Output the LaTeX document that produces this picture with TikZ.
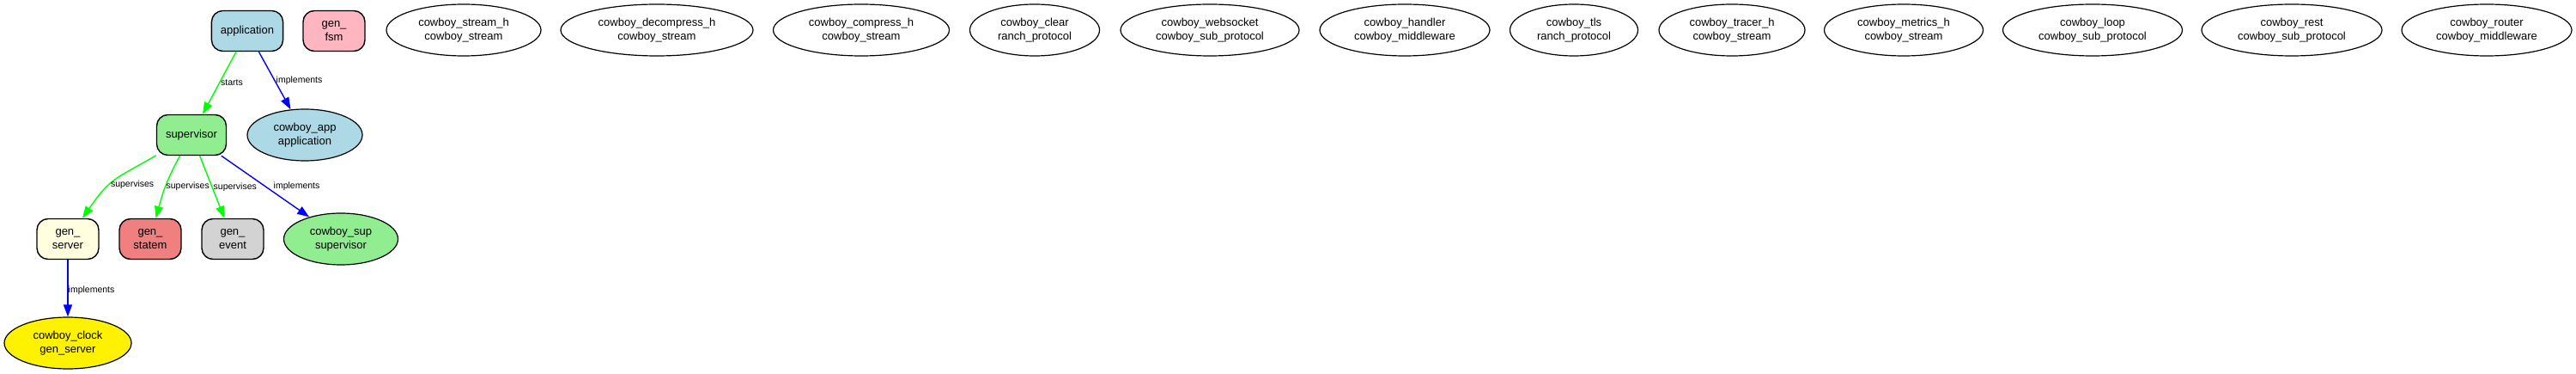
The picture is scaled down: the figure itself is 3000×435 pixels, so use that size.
\documentclass[tikz,border=0pt]{standalone}
\usepackage{fontspec}
\setmainfont{Liberation Sans}
\usetikzlibrary{arrows.meta,shapes.geometric}
\definecolor{lblue}{HTML}{ADD8E6}
\definecolor{lpink}{HTML}{FFB6C1}
\definecolor{lgreen}{HTML}{90EE90}
\definecolor{lyellow}{HTML}{FFFFE0}
\definecolor{lcoral}{HTML}{F08080}
\definecolor{lgray}{HTML}{D3D3D3}
\definecolor{ggreen}{HTML}{00FF00}
\tikzset{%
  rbox/.style={draw,shape=rectangle,rounded corners=13pt,line width=1.4pt,minimum width=72pt,minimum height=47pt,inner xsep=10.5pt,align=center,font={\fontsize{13}{15.5}\selectfont}},
  oval/.style={draw,shape=ellipse,line width=1.2pt,minimum height=60pt,inner sep=0pt,align=center,font={\fontsize{13}{15.5}\selectfont}},
  gedge/.style={draw=ggreen,line width=1.4pt,-{Triangle[length=14pt,width=10pt]}},
  bedge/.style={draw=blue,line width=1.4pt,-{Triangle[length=14pt,width=10pt]}},
  elabel/.style={anchor=west,inner sep=1pt,font={\fontsize{10.5}{12}\selectfont}}
}
\begin{document}
\begin{tikzpicture}[x=1pt,y=1pt]
    \useasboundingbox (0,0) rectangle (3000,-435);
    \path
      (288,-36) node (app)[rbox,fill=lblue]{application}
      (389,-36) node (fsm)[rbox,fill=lpink]{gen\_\\fsm}
      (223,-157) node (sup)[rbox,fill=lgreen]{supervisor}
      (355,-157) node (capp)[oval,fill=lblue,minimum width=134pt]{cowboy\_app\\application}
      (79,-278) node (srv)[rbox,fill=lyellow]{gen\_\\server}
      (175,-278) node (statem)[rbox,fill=lcoral]{gen\_\\statem}
      (271,-278) node (event)[rbox,fill=lgray]{gen\_\\event}
      (397,-278) node (csup)[oval,fill=lgreen,minimum width=133pt]{cowboy\_sup\\supervisor}
      (79,-399) node (clock)[oval,fill=yellow,minimum width=148pt]{cowboy\_clock\\gen\_server};
    \path
      (540,-35) node (streamh)[oval,minimum width=180pt]{cowboy\_stream\_h\\cowboy\_stream}
      (765,-35) node (decomp)[oval,minimum width=224pt]{cowboy\_decompress\_h\\cowboy\_stream}
      (1003,-35) node (comp)[oval,minimum width=205pt]{cowboy\_compress\_h\\cowboy\_stream}
      (1205,-35) node (clear)[oval,minimum width=151pt]{cowboy\_clear\\ranch\_protocol}
      (1409,-35) node (ws)[oval,minimum width=208pt]{cowboy\_websocket\\cowboy\_sub\_protocol}
      (1636,-35) node (handler)[oval,minimum width=198pt]{cowboy\_handler\\cowboy\_middleware}
      (1833,-35) node (tls)[oval,minimum width=149pt]{cowboy\_tls\\ranch\_protocol}
      (2017,-35) node (tracer)[oval,minimum width=170pt]{cowboy\_tracer\_h\\cowboy\_stream}
      (2217,-35) node (metrics)[oval,minimum width=185pt]{cowboy\_metrics\_h\\cowboy\_stream}
      (2437,-35) node (loop)[oval,minimum width=209pt]{cowboy\_loop\\cowboy\_sub\_protocol}
      (2669,-35) node (rest)[oval,minimum width=210pt]{cowboy\_rest\\cowboy\_sub\_protocol}
      (2896,-35) node (router)[oval,minimum width=198pt]{cowboy\_router\\cowboy\_middleware};
    \draw[gedge] (app) -- node[elabel]{starts} (sup);
    \draw[bedge] (app) -- node[elabel]{implements} (capp);
    \draw[gedge] (sup) to[out=210,in=55,looseness=1.3] node[elabel,pos=0.58]{supervises} (srv);
    \draw[gedge] (sup) to[out=241,in=75] node[elabel,inner sep=0pt]{supervises} (statem);
    \draw[gedge] (sup) -- node[elabel]{supervises} (event);
    \draw[bedge] (sup) -- node[elabel,xshift=8pt]{implements} (csup);
    \draw[bedge] (srv) -- node[elabel,inner sep=0pt,yshift=-2pt]{implements} (clock);
  \end{tikzpicture}
\end{document}
